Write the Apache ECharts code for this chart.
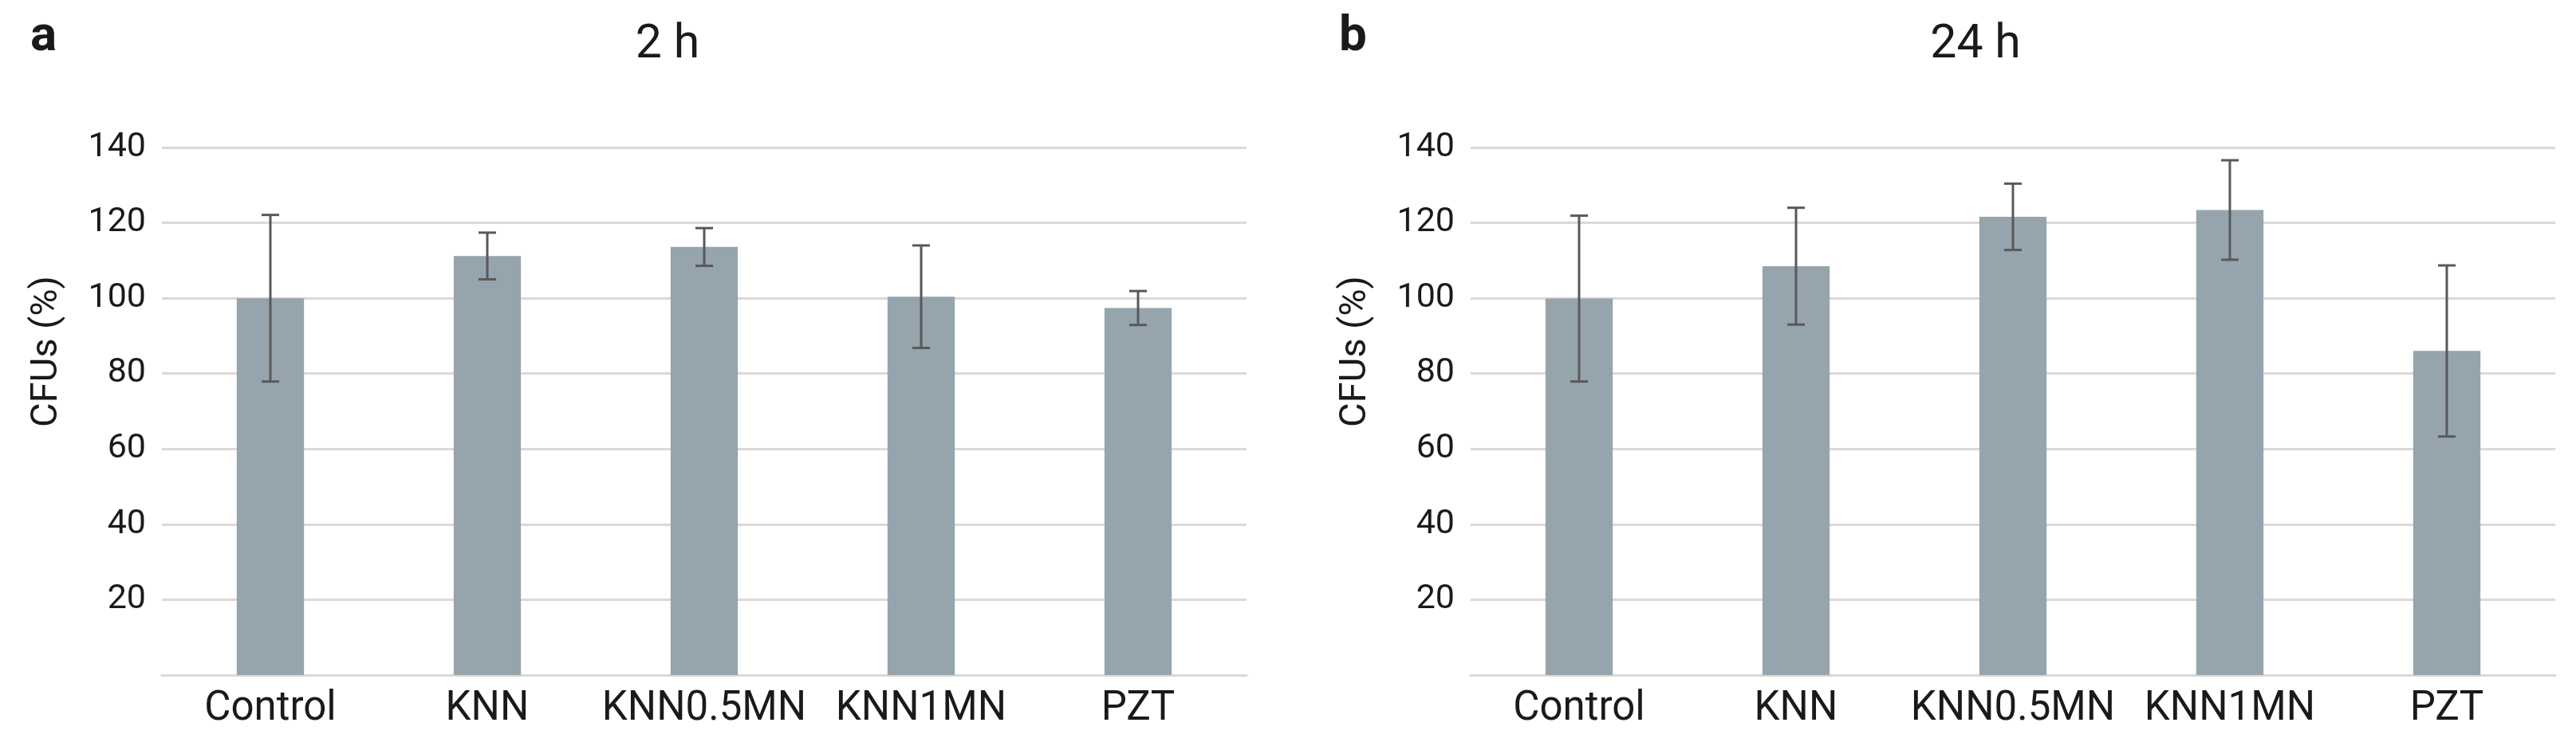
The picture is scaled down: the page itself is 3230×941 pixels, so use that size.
<!DOCTYPE html>
<html><head><meta charset="utf-8">
<script src="https://cdn.jsdelivr.net/npm/echarts@6.0.0/dist/echarts.min.js"></script>
<style>html,body{margin:0;padding:0;background:#fff}#c{width:3230px;height:941px}</style>
</head><body><div id="c"></div>
<script>
// ---- data ----
const categories = ['Control', 'KNN', 'KNN0.5MN', 'KNN1MN', 'PZT'];
const mean2h  = [100.0, 111.2, 113.6, 100.4, 97.4];
const sd2h    = [22.1, 6.2, 5.0, 13.6, 4.5];
const mean24h = [99.9, 108.5, 121.6, 123.4, 86.0];
const sd24h   = [22.0, 15.5, 8.8, 13.2, 22.7];
const yTickLabels = ['20', '40', '60', '80', '100', '120', '140'];
const panelTitles = ['2 h', '24 h'];
const panelLetters = ['a', 'b'];
const yAxisTitle = 'CFUs (%)';

// ---- styles ----
const FONT = 'Roboto';
const BAR_COLOR = '#96A4AE';
const GRID_COLOR = '#DDD9D3';
const ERR_COLOR = '#595959';
const TXT = '#1A1A1A';

const chart = echarts.init(document.getElementById('c'), null, {renderer: 'canvas'});

function errItem(params, api) {
  const x = api.value(0), lo = api.value(1), hi = api.value(2);
  const pLo = api.coord([x, lo]), pHi = api.coord([x, hi]);
  const hw = 11;
  const style = {stroke: ERR_COLOR, lineWidth: 3};
  return {type: 'group', children: [
    {type: 'line', shape: {x1: pLo[0], y1: pLo[1], x2: pHi[0], y2: pHi[1]}, style: style},
    {type: 'line', shape: {x1: pLo[0] - hw, y1: pLo[1], x2: pLo[0] + hw, y2: pLo[1]}, style: style},
    {type: 'line', shape: {x1: pHi[0] - hw, y1: pHi[1], x2: pHi[0] + hw, y2: pHi[1]}, style: style}
  ]};
}

const grids = [
  {left: 203, top: 185, width: 1360, height: 662},
  {left: 1844, top: 185, width: 1360, height: 662}
];

function xAxisCfg(gi) {
  return {
    type: 'category', gridIndex: gi, data: categories,
    axisLine: {show: true, lineStyle: {color: GRID_COLOR, width: 3}},
    axisTick: {show: false},
    axisLabel: {color: TXT, fontFamily: FONT, fontSize: 51, margin: 18, interval: 0}
  };
}
function yAxisCfg(gi) {
  return {
    type: 'value', gridIndex: gi, min: 0, max: 140, interval: 20,
    axisLine: {show: false}, axisTick: {show: false},
    axisLabel: {color: TXT, fontFamily: FONT, fontSize: 43, margin: 20,
      formatter: function (v) { const s = String(v); return yTickLabels.indexOf(s) >= 0 ? s : ''; }},
    splitLine: {show: true, lineStyle: {color: GRID_COLOR, width: 3}}
  };
}

function errData(mean, sd) {
  return categories.map(function (c, i) { return [i, mean[i] - sd[i], mean[i] + sd[i]]; });
}

function axisTitle(x) {
  return {type: 'text', x: x, y: 441, rotation: Math.PI / 2,
    style: {text: yAxisTitle, fill: TXT, font: '47px Roboto', align: 'center', verticalAlign: 'middle'}};
}

const option = {
  backgroundColor: '#ffffff',
  animation: false,
  title: [
    {text: panelTitles[0], left: 837, top: 28, textAlign: 'center', padding: 0,
      textStyle: {fontFamily: FONT, fontSize: 59, fontWeight: 'normal', color: TXT}},
    {text: panelTitles[1], left: 2477, top: 28, textAlign: 'center', padding: 0,
      textStyle: {fontFamily: FONT, fontSize: 59, fontWeight: 'normal', color: TXT}},
    {text: panelLetters[0], left: 38, top: 16, padding: 0,
      textStyle: {fontFamily: FONT, fontSize: 62, fontWeight: 'bold', color: TXT}},
    {text: panelLetters[1], left: 1679, top: 16, padding: 0,
      textStyle: {fontFamily: FONT, fontSize: 62, fontWeight: 'bold', color: TXT}}
  ],
  graphic: [axisTitle(59), axisTitle(1700)],
  grid: grids,
  xAxis: [xAxisCfg(0), xAxisCfg(1)],
  yAxis: [yAxisCfg(0), yAxisCfg(1)],
  series: [
    {type: 'bar', xAxisIndex: 0, yAxisIndex: 0, data: mean2h, barWidth: '31%',
      itemStyle: {color: BAR_COLOR}, z: 2},
    {type: 'custom', xAxisIndex: 0, yAxisIndex: 0, data: errData(mean2h, sd2h),
      renderItem: errItem, z: 3},
    {type: 'bar', xAxisIndex: 1, yAxisIndex: 1, data: mean24h, barWidth: '31%',
      itemStyle: {color: BAR_COLOR}, z: 2},
    {type: 'custom', xAxisIndex: 1, yAxisIndex: 1, data: errData(mean24h, sd24h),
      renderItem: errItem, z: 3}
  ]
};
chart.setOption(option);
</script>
</body></html>
